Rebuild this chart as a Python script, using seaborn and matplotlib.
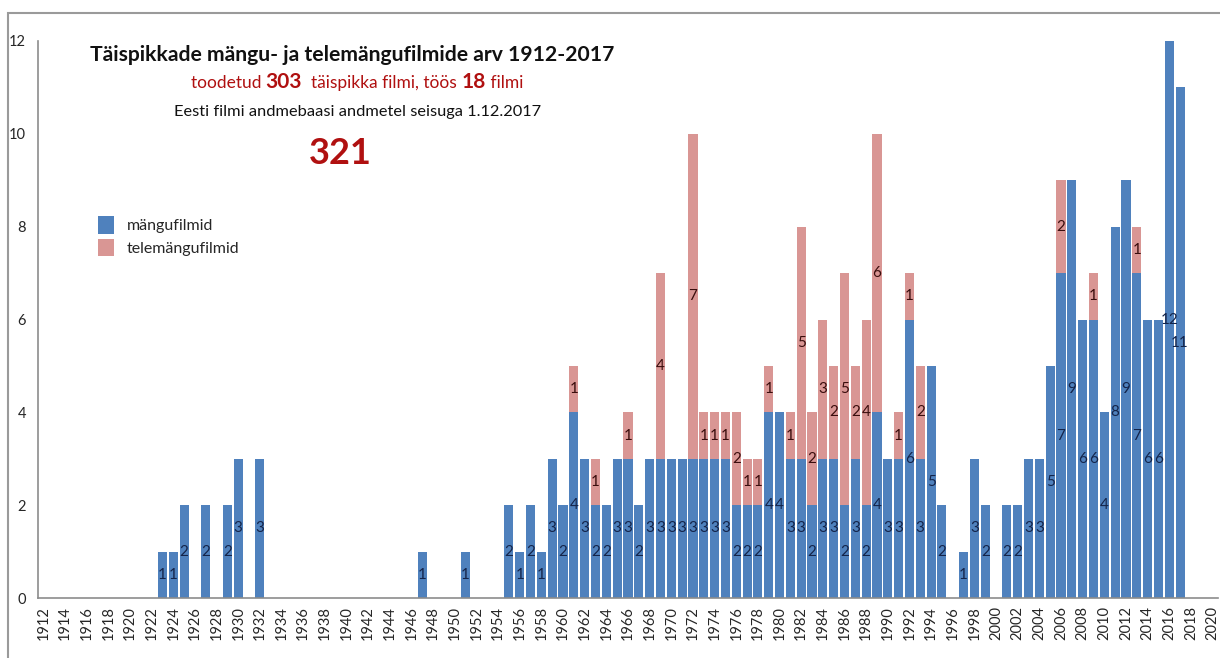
import numpy as np
import pandas as pd
import matplotlib
matplotlib.use('Agg')
import matplotlib.pyplot as plt
import seaborn as sns
from matplotlib.patches import Patch, Rectangle

# data: years with at least one film
years = [1923, 1924, 1925, 1927, 1929, 1930, 1932, 1947, 1951,
         1955, 1956, 1957, 1958, 1959, 1960, 1961, 1962, 1963, 1964,
         1965, 1966, 1967, 1968, 1969, 1970, 1971, 1972, 1973, 1974,
         1975, 1976, 1977, 1978, 1979, 1980, 1981, 1982, 1983, 1984,
         1985, 1986, 1987, 1988, 1989, 1990, 1991, 1992, 1993, 1994,
         1995, 1997, 1998, 1999,
         2001, 2002, 2003, 2004, 2005, 2006, 2007, 2008, 2009, 2010,
         2011, 2012, 2013, 2014, 2015, 2016, 2017]
mangufilmid = [1, 1, 2, 2, 2, 3, 3, 1, 1,
               2, 1, 2, 1, 3, 2, 4, 3, 2, 2,
               3, 3, 2, 3, 3, 3, 3, 3, 3, 3,
               3, 2, 2, 2, 4, 4, 3, 3, 2, 3,
               3, 2, 3, 2, 4, 3, 3, 6, 3, 5,
               2, 1, 3, 2,
               2, 2, 3, 3, 5, 7, 9, 6, 6, 4,
               8, 9, 7, 6, 6, 12, 11]
telemangufilmid = [0, 0, 0, 0, 0, 0, 0, 0, 0,
                   0, 0, 0, 0, 0, 0, 1, 0, 1, 0,
                   0, 1, 0, 0, 4, 0, 0, 7, 1, 1,
                   1, 2, 1, 1, 1, 0, 1, 5, 2, 3,
                   2, 5, 2, 4, 6, 0, 1, 1, 2, 0,
                   0, 0, 0, 0,
                   0, 0, 0, 0, 0, 2, 0, 0, 1, 0,
                   0, 0, 1, 0, 0, 0, 0]

blue = '#4F81BD'
pink = '#D99694'
darkred = '#B01010'

df = pd.DataFrame({'aasta': years, 'mangu': mangufilmid, 'tele': telemangufilmid})
df['kokku'] = df['mangu'] + df['tele']

sns.set_style('white')
plt.rcParams['font.family'] = ['Lato', 'DejaVu Sans']

fig = plt.figure(figsize=(12.2, 6.58), dpi=100)
ax = fig.add_axes([38 / 1220, 1 - 598 / 658, 1180 / 1220, (598 - 41) / 658])

# stacked bars: totals in pink, feature films in blue on top of them
sns.barplot(data=df, x='aasta', y='kokku', native_scale=True, color=pink,
            saturation=1, width=0.84, linewidth=0, ax=ax)
sns.barplot(data=df, x='aasta', y='mangu', native_scale=True, color=blue,
            saturation=1, width=0.84, linewidth=0, ax=ax)

for _, r in df.iterrows():
    if r['mangu'] > 0:
        ax.text(r['aasta'], r['mangu'] / 2, str(r['mangu']), ha='center', va='center',
                fontsize=11, color='#14244a')
    if r['tele'] > 0:
        ax.text(r['aasta'], r['mangu'] + r['tele'] / 2, str(r['tele']), ha='center',
                va='center', fontsize=11, color='#3a0d0d')

ax.set_xlim(1911.5, 2020.5)
ax.set_ylim(0, 12)
ax.set_xlabel('')
ax.set_ylabel('')
ax.set_yticks(range(0, 13, 2))
ax.set_xticks(range(1912, 2021, 2))
ax.set_xticklabels([str(y) for y in range(1912, 2021, 2)], rotation=90, fontsize=10.5)
ax.set_xticks(np.arange(1911.5, 2021, 1), minor=True)
ax.tick_params(axis='x', which='major', length=0, pad=6)
ax.tick_params(axis='x', which='minor', length=5, color='#8c8c8c', width=1)
ax.tick_params(axis='y', length=5, color='#8c8c8c', width=1, labelsize=10.5)
for s in ['top', 'right']:
    ax.spines[s].set_visible(False)
for s in ['left', 'bottom']:
    ax.spines[s].set_color('#8c8c8c')
    ax.spines[s].set_linewidth(1.2)

# outer chart border
fig.add_artist(Rectangle((8 / 1220, -0.1), 1.2, 0.1 + (658 - 13) / 658,
                         transform=fig.transFigure, fill=False,
                         edgecolor='#9a9a9a', linewidth=1.5))

# titles
fig.text(90 / 1220, 1 - 55 / 658, 'Täispikkade mängu- ja telemängufilmide arv 1912-2017',
         ha='left', va='center', fontsize=15.2, fontweight='bold', color='#111111')

pieces = [('toodetud ', 12.5, 'normal'), ('303', 15, 'bold'),
          ('  täispikka filmi, töös ', 12.5, 'normal'), ('18', 15, 'bold'),
          (' filmi', 12.5, 'normal')]
renderer = fig.canvas.get_renderer()
texts = []
for s, fs, fw in pieces:
    t = fig.text(0, 1 - 82 / 658, s, ha='left', va='baseline', fontsize=fs,
                 fontweight=fw, color=darkred)
    texts.append(t)
widths = [t.get_window_extent(renderer).width for t in texts]
x0 = 357 - sum(widths) / 2
for t, w in zip(texts, widths):
    t.set_x(x0 / 1220)
    t.set_y(1 - 88 / 658)
    x0 += w

fig.text(358 / 1220, 1 - 112 / 658, 'Eesti filmi andmebaasi andmetel seisuga 1.12.2017',
         ha='center', va='center', fontsize=11.8, color='#111111')
fig.text(340 / 1220, 1 - 153 / 658, '321', ha='center', va='center', fontsize=26,
         fontweight='bold', color=darkred)

handles = [Patch(facecolor=blue, edgecolor='none', label='mängufilmid'),
           Patch(facecolor=pink, edgecolor='none', label='telemängufilmid')]
fig.legend(handles=handles, loc='upper left', bbox_to_anchor=(84 / 1220, 1 - 202 / 658),
           frameon=False, fontsize=11.5, handlelength=1.0, handleheight=1.3,
           handletextpad=0.8, labelspacing=0.3)

fig.savefig('out.png', dpi=100)
